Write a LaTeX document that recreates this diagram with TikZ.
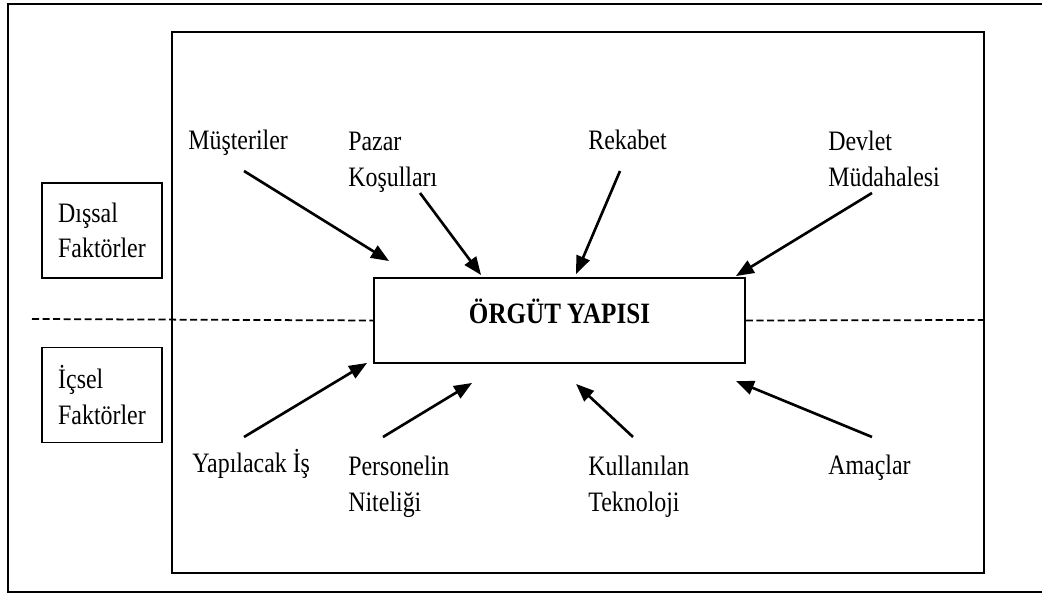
\documentclass[tikz,border=0pt]{standalone}
\usepackage{fontspec}
\setmainfont[FakeStretch=0.85]{Liberation Serif}
\usetikzlibrary{arrows.meta,calc,positioning}

\tikzset{
	lbl/.style={anchor=base west, inner sep=0pt, align=left, font=\fontsize{16}{21}\selectfont},
	sidebox/.style={draw, line width=1pt, minimum width=2.4cm, minimum height=1.9cm, align=left, font=\fontsize{16}{20}\selectfont},
	pfeil/.style={-{Triangle[length=0.36cm,width=0.28cm]}, line width=1.5pt},
	trenner/.style={line width=1pt, dash pattern=on 4pt off 2pt}
}

\begin{document}
\begin{tikzpicture}[x=0.02cm, y=-0.02cm]
		\useasboundingbox (0,0) rectangle (1042,594);
		% rahmen
		\draw[line width=1pt] (1042,4) -| (8,592) -- (1042,592);
		\draw[line width=1.2pt] (172,32) rectangle (984,573);
		% mitte
		\node[draw, line width=1.1pt, minimum width=7.42cm, minimum height=1.7cm,
			text height=12.5pt, text depth=9pt, font=\fontsize{16.8}{19}\selectfont\bfseries]
			(box) at (559.5,320.5) {ÖRGÜT YAPISI};
		% seiten
		\node[sidebox] (dis) at (102,230.5) {Dışsal\\Faktörler};
		\node[sidebox] (ic) at (102,395) {İçsel\\Faktörler};
		\coordinate (sepL) at (32,319);
		\coordinate (sepR) at (984,320);
		\draw[trenner] (sepL) -- (box.west);
		\draw[trenner] (box.east) -- (sepR);
		% aussen
		\node[lbl] (mus) at (188,150) {Müşteriler};
		\node[lbl] (paz) at (348,187) {Pazar\\Koşulları};
		\node[lbl] (rek) at (588,150) {Rekabet};
		\node[lbl] (dev) at (828,187) {Devlet\\Müdahalesi};
		% innen
		\node[lbl] (yap) at (192,473) {Yapılacak İş};
		\node[lbl] (per) at (348,512) {Personelin\\Niteliği};
		\node[lbl] (kul) at (588,512) {Kullanılan\\Teknoloji};
		\node[lbl] (ama) at (828,475) {Amaçlar};
		% pfeile
		\draw[pfeil] ($(mus.base west)+(56,21)$) -- ($(box.north west)+(16,-16)$);
		\draw[pfeil] ($(paz.base west)+(72,6)$) -- ($(box.north west)+(108,-2)$);
		\draw[pfeil] ($(rek.base west)+(32,21)$) -- ($(box.north west)+(203,-3)$);
		\draw[pfeil] ($(dev.base west)+(44,6)$) -- ($(box.north east)+(-10,-1)$);
		\draw[pfeil] ($(yap.base west)+(52,-36)$) -- ($(box.south west)+(-6,-1)$);
		\draw[pfeil] ($(per.base west)+(35,-75)$) -- ($(box.south west)+(99,19)$);
		\draw[pfeil] ($(kul.base west)+(45,-75)$) -- ($(box.south west)+(203,20)$);
		\draw[pfeil] ($(ama.base west)+(44,-38)$) -- ($(box.south east)+(-10,17)$);
	\end{tikzpicture}
\end{document}
